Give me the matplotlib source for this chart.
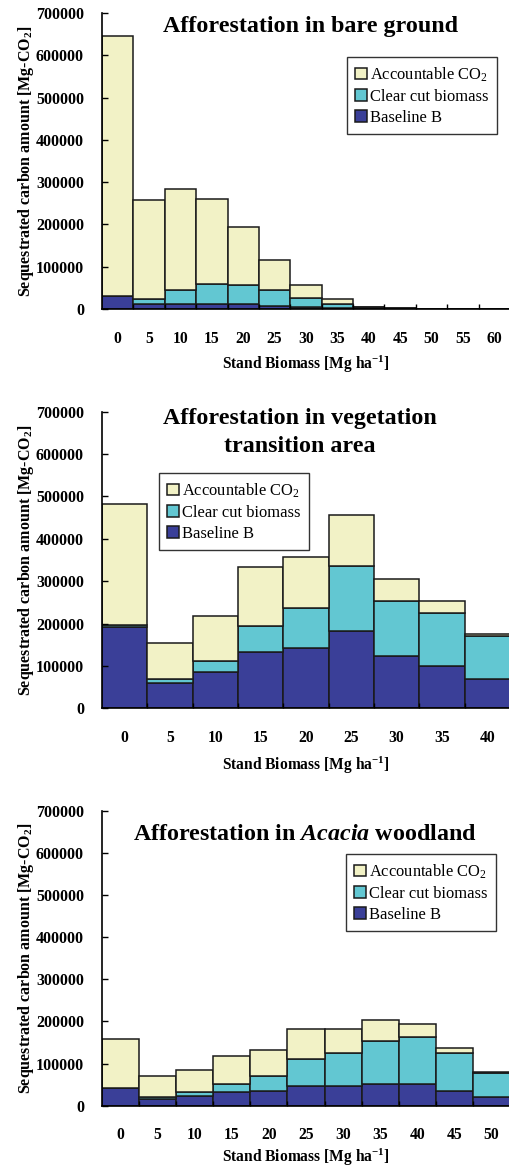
import matplotlib
matplotlib.use("Agg")
import matplotlib.pyplot as plt
import numpy as np

plt.rcParams['font.family'] = ['Liberation Serif', 'DejaVu Serif']
plt.rcParams['mathtext.fontset'] = 'custom'
plt.rcParams['mathtext.rm'] = 'Liberation Serif'
plt.rcParams['mathtext.bf'] = 'Liberation Serif:bold'
plt.rcParams['mathtext.it'] = 'Liberation Serif:italic:bold'

# ---------------- data ----------------
series_names = ["Accountable CO$_2$", "Clear cut biomass", "Baseline B"]
colors = {"acc": "#F2F2C6", "cc": "#62C7D2", "base": "#3A3F98"}

# Panel 1: bare ground
bare_bins = [0, 5, 10, 15, 20, 25, 30, 35, 40, 45, 50, 55, 60]
bare_baseline = [31000, 13000, 13000, 13000, 11000, 7000, 4000, 2000, 2500, 1000, 0, 0, 0]
bare_clearcut = [0, 10500, 31500, 47000, 46000, 37000, 23000, 10000, 1500, 500, 0, 0, 0]
bare_account = [614000, 233500, 239500, 200000, 136000, 73000, 30000, 11000, 1000, 500, 0, 0, 0]

# Panel 2: vegetation transition area
trans_bins = [0, 5, 10, 15, 20, 25, 30, 35, 40]
trans_baseline = [192000, 59000, 86000, 133000, 143000, 183000, 123000, 101000, 70000]
trans_clearcut = [4000, 9000, 26000, 61000, 93000, 154000, 130000, 125000, 101000]
trans_account = [285000, 85000, 106000, 139000, 120000, 120000, 53000, 27000, 5000]

# Panel 3: Acacia woodland
acacia_bins = [0, 5, 10, 15, 20, 25, 30, 35, 40, 45, 50]
acacia_baseline = [42000, 17000, 24000, 32000, 34000, 47000, 47000, 52000, 52000, 36000, 21000]
acacia_clearcut = [0, 4000, 9000, 20000, 36000, 65000, 77000, 101000, 112000, 88000, 57000]
acacia_account = [117000, 49000, 52000, 65000, 63000, 70000, 58000, 50000, 31000, 14000, 3000]

panels = [
    dict(bins=bare_bins, base=bare_baseline, cc=bare_clearcut, acc=bare_account,
         bottom_px=309.0, top_px=13.0,
         title=[("Afforestation in bare ground", 0.51, 0.953)],
         legend=(0.6005, 0.851), xlabel_y=-0.152),
    dict(bins=trans_bins, base=trans_baseline, cc=trans_clearcut, acc=trans_account,
         bottom_px=708.3, top_px=411.7,
         title=[("Afforestation in vegetation", 0.485, 0.978),
                ("transition area", 0.485, 0.882)],
         legend=(0.1397, 0.793), xlabel_y=-0.156),
    dict(bins=acacia_bins, base=acacia_baseline, cc=acacia_clearcut, acc=acacia_account,
         bottom_px=1105.7, top_px=810.7,
         title=[(r"Afforestation in $\mathit{Acacia}$ woodland", 0.4975, 0.918)],
         legend=(0.598, 0.853), xlabel_y=-0.139),
]

W, H = 510, 1167
fig = plt.figure(figsize=(W / 100, H / 100), dpi=100)

yticks = np.arange(0, 700001, 100000)
edge = "#1a1a1a"

for p in panels:
    bottom = 1 - p["bottom_px"] / H
    height = (p["bottom_px"] - p["top_px"]) / H
    ax = fig.add_axes([102 / W, bottom, 408 / W, height])
    n = len(p["bins"])
    x = np.arange(n)
    base = np.array(p["base"], float)
    cc = np.array(p["cc"], float)
    acc = np.array(p["acc"], float)
    b1 = ax.bar(x, base, width=1.0, color=colors["base"], edgecolor=edge, linewidth=1.1, label="Baseline B")
    b2 = ax.bar(x, cc, bottom=base, width=1.0, color=colors["cc"], edgecolor=edge, linewidth=1.1, label="Clear cut biomass")
    b3 = ax.bar(x, acc, bottom=base + cc, width=1.0, color=colors["acc"], edgecolor=edge, linewidth=1.1, label="Accountable CO$_2$")

    ax.set_xlim(-0.5, n - 0.5)
    ax.set_ylim(0, 700000)
    ax.set_yticks(yticks)
    ax.set_yticklabels([str(v) for v in yticks], fontsize=11.5, fontweight='bold')
    ax.set_xticks(x)
    ax.set_xticklabels([str(b) for b in p["bins"]], fontsize=11.3, fontweight='bold')
    ax.set_xticks(np.arange(n) + 0.5, minor=True)
    ax.tick_params(axis='x', which='major', length=0, pad=15.5)
    ax.tick_params(axis='x', which='minor', direction='in', length=3.5, width=1.0)
    ax.tick_params(axis='y', which='major', direction='in', length=4.5, width=1.0, pad=13)
    for s in ['top', 'right']:
        ax.spines[s].set_visible(False)
    for s in ['left', 'bottom']:
        ax.spines[s].set_linewidth(1.2)
        ax.spines[s].set_color('black')

    ax.set_ylabel(r"Sequestrated carbon amount [Mg-CO$_\mathbf{2}$]", fontsize=11.5, fontweight='bold')
    ax.yaxis.set_label_coords(-0.162, 0.5)
    ax.set_xlabel(r"Stand Biomass [Mg ha$^{\mathbf{-1}}$]", fontsize=11.2, fontweight='bold')
    ax.xaxis.set_label_coords(0.5, p["xlabel_y"])

    for (t, tx, ty) in p["title"]:
        ax.text(tx, ty, t, transform=ax.transAxes, ha='center', va='center',
                fontsize=17.3, fontweight='bold')

    leg = ax.legend(handles=[b3, b2, b1], loc='upper left', bbox_to_anchor=p["legend"],
                    fontsize=11.9, frameon=True, fancybox=False, edgecolor='black',
                    handlelength=0.72, handleheight=0.72, handletextpad=0.18,
                    labelspacing=0.3, borderpad=0.5, borderaxespad=0)
    leg.get_frame().set_linewidth(1.0)

fig.savefig("out.png", dpi=100)
